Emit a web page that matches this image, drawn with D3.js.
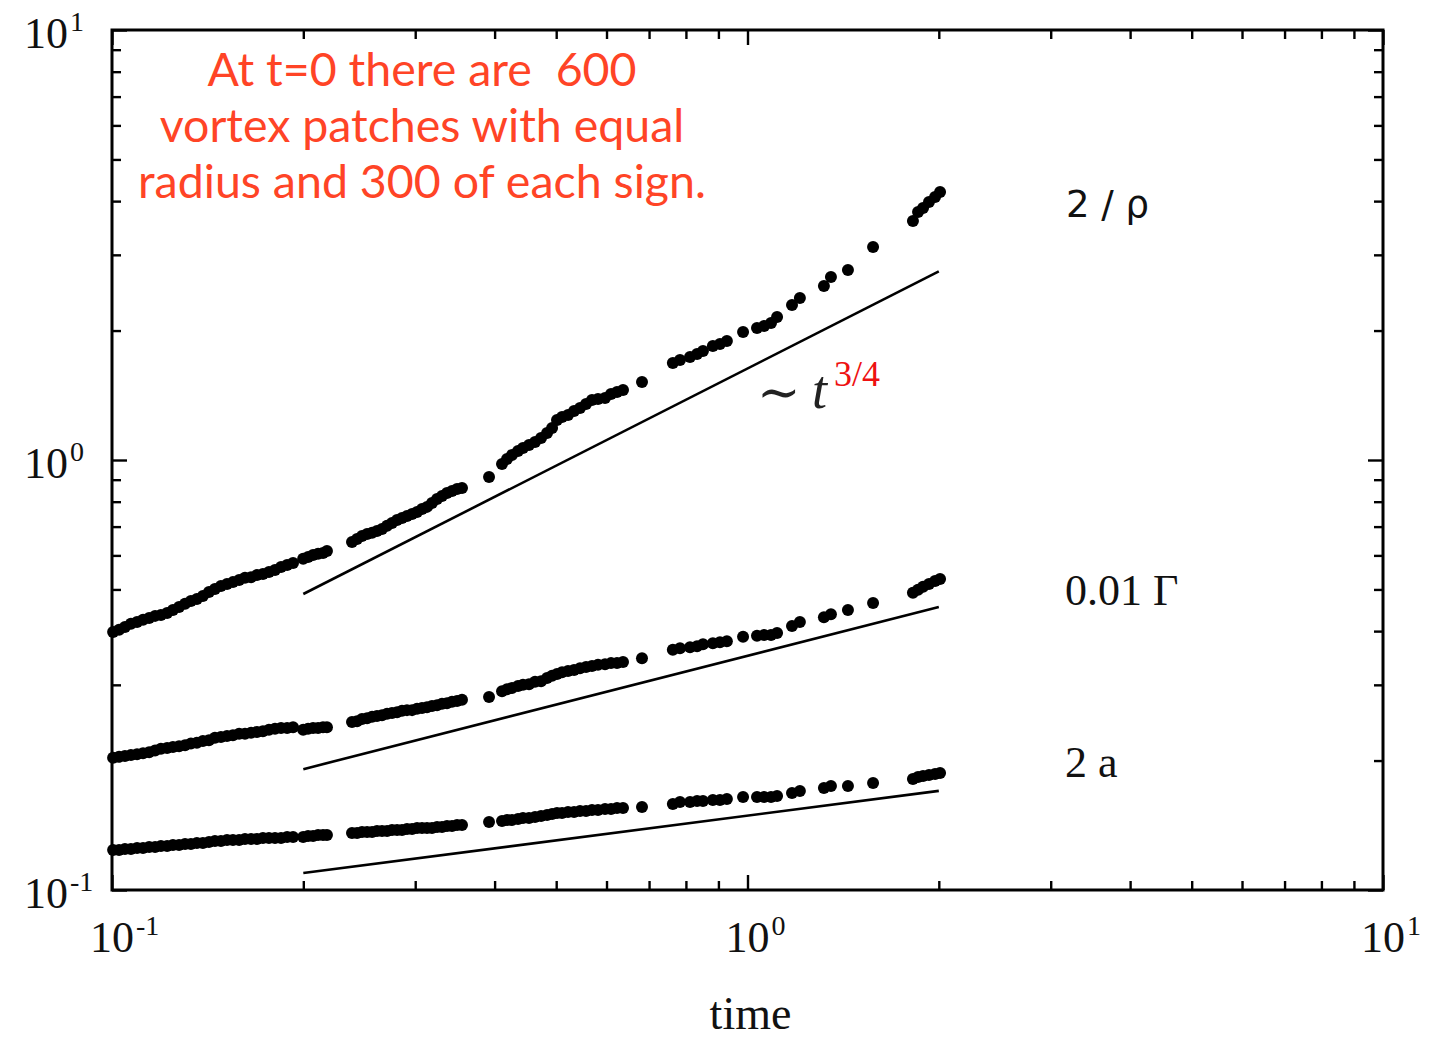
<!DOCTYPE html>
<html>
<head>
<meta charset="utf-8">
<script src="https://cdn.jsdelivr.net/npm/d3@7"></script>
<style>
  html, body { margin: 0; padding: 0; background: #fff; }
  svg { display: block; }
</style>
</head>
<body>
<svg id="chart" width="1444" height="1039"></svg>
<script>
// Sampling times shared by the three measured quantities
const times = [
  0.1004,0.1026,0.1048,0.1071,0.1095,0.1119,0.1144,0.1169,0.1194,0.1221,0.1247,0.1275,0.1303,0.1331,0.1360,0.1390,
  0.1421,0.1452,0.1484,0.1517,0.1550,0.1585,0.1619,0.1655,0.1691,0.1728,0.1766,0.1805,0.1845,0.1886,0.1927,
  0.1999,0.2035,0.2072,0.2110,0.2148,0.2179,
  0.2386,0.2430,0.2474,0.2520,0.2566,0.2612,0.2660,0.2709,0.2758,0.2809,0.2860,0.2912,0.2966,0.3020,0.3075,0.3131,
  0.3188,0.3247,0.3306,0.3366,0.3428,0.3491,0.3554,
  0.3920,
  0.4109,0.4184,0.4260,0.4354,0.4433,0.4531,0.4631,0.4733,0.4837,0.4926,0.5015,0.5107,0.5219,0.5334,0.5451,0.5571,
  0.5692,0.5818,0.5968,0.6099,0.6233,0.6370,0.6823,
  0.763,0.783,0.812,0.833,0.851,0.882,0.905,0.928,0.984,1.035,1.062,1.089,1.113,1.175,1.209,1.319,1.353,1.439,1.576,
  1.821,1.855,1.889,1.930,1.973,2.009
];

// 2 / rho  (inverse vortex density)
const rhoValues = [
  0.398,0.403,0.409,0.416,0.420,0.425,0.429,0.434,0.436,0.441,0.448,0.455,0.463,0.470,0.475,0.483,
  0.493,0.501,0.509,0.515,0.520,0.526,0.532,0.534,0.540,0.543,0.549,0.555,0.564,0.570,0.576,
  0.589,0.595,0.601,0.605,0.608,0.614,
  0.645,0.655,0.666,0.673,0.677,0.684,0.691,0.703,0.714,0.725,0.733,0.741,0.749,0.757,0.769,0.778,
  0.794,0.812,0.825,0.838,0.847,0.856,0.861,
  0.913,
  0.979,1.005,1.027,1.049,1.066,1.084,1.101,1.125,1.156,1.187,1.239,1.259,1.273,1.300,1.321,1.350,
  1.379,1.386,1.394,1.424,1.439,1.455,1.518,
  1.681,1.708,1.736,1.764,1.793,1.841,1.861,1.891,1.985,2.028,2.050,2.083,2.151,2.294,2.381,2.539,2.665,2.766,3.129,
  3.596,3.773,3.855,3.981,4.089,4.200
];

// 0.01 Gamma  (mean circulation)
const gammaValues = [
  0.203,0.204,0.205,0.206,0.207,0.208,0.209,0.211,0.213,0.214,0.215,0.216,0.217,0.219,0.220,0.222,
  0.223,0.226,0.227,0.228,0.229,0.231,0.231,0.232,0.233,0.234,0.236,0.237,0.238,0.238,0.239,
  0.236,0.237,0.238,0.238,0.239,0.239,
  0.246,0.247,0.250,0.251,0.253,0.254,0.255,0.257,0.258,0.259,0.261,0.262,0.262,0.264,0.265,0.266,
  0.268,0.269,0.271,0.272,0.274,0.275,0.277,
  0.281,
  0.290,0.293,0.295,0.298,0.300,0.301,0.305,0.306,0.311,0.315,0.318,0.321,0.323,0.325,0.328,0.330,
  0.332,0.334,0.335,0.337,0.337,0.339,0.346,
  0.362,0.365,0.367,0.369,0.373,0.375,0.377,0.379,0.388,0.390,0.392,0.392,0.396,0.411,0.420,0.431,0.438,0.448,0.465,
  0.491,0.499,0.507,0.515,0.523,0.529
];

// 2 a  (mean patch diameter)
const radiusValues = [
  0.1239,0.1239,0.1245,0.1245,0.1252,0.1252,0.1259,0.1259,0.1266,0.1266,0.1272,0.1272,0.1279,0.1279,0.1286,0.1286,
  0.1293,0.1300,0.1300,0.1307,0.1307,0.1307,0.1314,0.1314,0.1314,0.1321,0.1321,0.1321,0.1321,0.1328,0.1328,
  0.1328,0.1336,0.1336,0.1343,0.1343,0.1343,
  0.1357,0.1357,0.1364,0.1364,0.1364,0.1372,0.1372,0.1372,0.1379,0.1379,0.1379,0.1387,0.1387,0.1394,0.1394,0.1394,
  0.1394,0.1402,0.1402,0.1409,0.1409,0.1417,0.1417,
  0.1440,
  0.1447,0.1455,0.1455,0.1463,0.1470,0.1470,0.1479,0.1486,0.1494,0.1502,0.1510,0.1510,0.1518,0.1518,0.1527,0.1527,
  0.1535,0.1535,0.1543,0.1543,0.1551,0.1551,0.1560,
  0.1585,0.1602,0.1602,0.1611,0.1611,0.1619,0.1619,0.1628,0.1646,0.1646,0.1646,0.1646,0.1654,0.1681,0.1699,0.1727,
  0.1746,0.1746,0.1774,0.1812,0.1832,0.1841,0.1851,0.1861,0.1871
];

// Power-law guide lines (end points)
const guideTimes = [0.2, 2.0];
const guideRho = [0.488, 2.745];     // ~ t^(3/4)
const guideGamma = [0.191, 0.455];
const guideRadius = [0.1095, 0.170];

// Axis ticks
const majorTicks = [0.1, 1, 10];
const tickExponents = ["-1", "0", "1"];
const minorTicks = [0.2, 0.3, 0.4, 0.5, 0.6, 0.7, 0.8, 0.9, 2, 3, 4, 5, 6, 7, 8, 9];

const seriesLabels = ["2 / \u03c1", "0.01 \u0393", "2 a"];
const noteLines = ["At t=0 there are  600", "vortex patches with equal", "radius and 300 of each sign."];
const xTitle = "time";

// ---------------------------------------------------------------
const svg = d3.select("#chart");
const L = 112, R = 1383, T = 30, B = 890;

const x = d3.scaleLog().domain([0.1, 10]).range([L, R]);
const y = d3.scaleLog().domain([0.1, 10]).range([B, T]);

// ticks on all four sides, pointing inward
function addAxis(gen, transform) {
  const gMinor = svg.append("g").attr("transform", transform)
    .call(gen(minorTicks).tickSize(-9));
  const gMajor = svg.append("g").attr("transform", transform)
    .call(gen(majorTicks).tickSize(-15));
  [gMinor, gMajor].forEach(g => {
    g.select(".domain").remove();
    g.selectAll("text").remove();
    g.selectAll("line").attr("stroke", "#000").attr("stroke-width", 2.4);
  });
}
addAxis(v => d3.axisBottom(x).tickValues(v).tickFormat(""), `translate(0,${B})`);
addAxis(v => d3.axisTop(x).tickValues(v).tickFormat(""), `translate(0,${T})`);
addAxis(v => d3.axisLeft(y).tickValues(v).tickFormat(""), `translate(${L},0)`);
addAxis(v => d3.axisRight(y).tickValues(v).tickFormat(""), `translate(${R},0)`);

// frame
svg.append("rect")
  .attr("x", L).attr("y", T).attr("width", R - L).attr("height", B - T)
  .attr("fill", "none").attr("stroke", "#000").attr("stroke-width", 3);

const serif = "'Liberation Serif', 'Times New Roman', serif";

// tick labels with superscript exponents
function powerLabel(g, px, py, exp, anchorMiddle) {
  const t = g.append("text")
    .attr("font-family", serif).attr("font-size", 44).attr("fill", "#111")
    .attr("y", py);
  t.append("tspan").text("10");
  t.append("tspan").attr("font-size", 28).attr("dx", 2).attr("dy", -17).text(exp);
  let w = 0;
  if (anchorMiddle) w = t.node().getSubStringLength(0, 2) / 2;
  t.attr("x", px - w);
}
const labels = svg.append("g");
majorTicks.forEach((v, i) => {
  powerLabel(labels, x(v), 952, tickExponents[i], true);
  powerLabel(labels, 24, y(v) + 18, tickExponents[i], false);
});

svg.append("text")
  .attr("x", (L + R) / 2 + 3).attr("y", 1029)
  .attr("text-anchor", "middle")
  .attr("font-family", serif).attr("font-size", 46).attr("fill", "#111")
  .text(xTitle);

// guide lines
const guides = [guideRho, guideGamma, guideRadius];
const line = d3.line().x(d => x(d[0])).y(d => y(d[1]));
svg.append("g").selectAll("path")
  .data(guides)
  .join("path")
  .attr("d", vals => line(guideTimes.map((t, i) => [t, vals[i]])))
  .attr("fill", "none").attr("stroke", "#000").attr("stroke-width", 2.6);

// data dots
const series = [rhoValues, gammaValues, radiusValues];
series.forEach(vals => {
  svg.append("g").selectAll("circle")
    .data(times.map((t, i) => [t, vals[i]]))
    .join("circle")
    .attr("cx", d => x(d[0])).attr("cy", d => y(d[1]))
    .attr("r", 6).attr("fill", "#000");
});

// series labels
svg.append("text").attr("x", 1066).attr("y", 217)
  .attr("font-family", "'DejaVu Sans', sans-serif").attr("font-size", 37).attr("fill", "#111")
  .text(seriesLabels[0]);
svg.append("text").attr("x", 1065).attr("y", 605)
  .attr("font-family", serif).attr("font-size", 44).attr("fill", "#111")
  .text(seriesLabels[1]);
svg.append("text").attr("x", 1065).attr("y", 777)
  .attr("font-family", serif).attr("font-size", 44).attr("fill", "#111")
  .text(seriesLabels[2]);

// scaling annotation  ~ t^{3/4}
const ann = svg.append("g");
ann.append("text").attr("x", 757).attr("y", 410)
  .attr("font-family", "'DejaVu Serif', serif").attr("font-size", 52).attr("fill", "#222")
  .text("\u223c");
ann.append("text").attr("x", 812).attr("y", 408)
  .attr("font-family", serif).attr("font-style", "italic").attr("font-size", 54).attr("fill", "#222")
  .text("t");
ann.append("text").attr("x", 834).attr("y", 386)
  .attr("font-family", serif).attr("font-size", 36).attr("fill", "#ee1111")
  .text("3/4");

// note in the upper-left corner
svg.append("g").selectAll("text")
  .data(noteLines)
  .join("text")
  .attr("x", 422).attr("y", (d, i) => 86 + i * 56)
  .attr("text-anchor", "middle")
  .attr("xml:space", "preserve")
  .style("white-space", "pre")
  .attr("font-family", "Lato, 'Open Sans', sans-serif").attr("font-size", 46.5)
  .attr("fill", "#ff4426")
  .text(d => d);
</script>
</body>
</html>
